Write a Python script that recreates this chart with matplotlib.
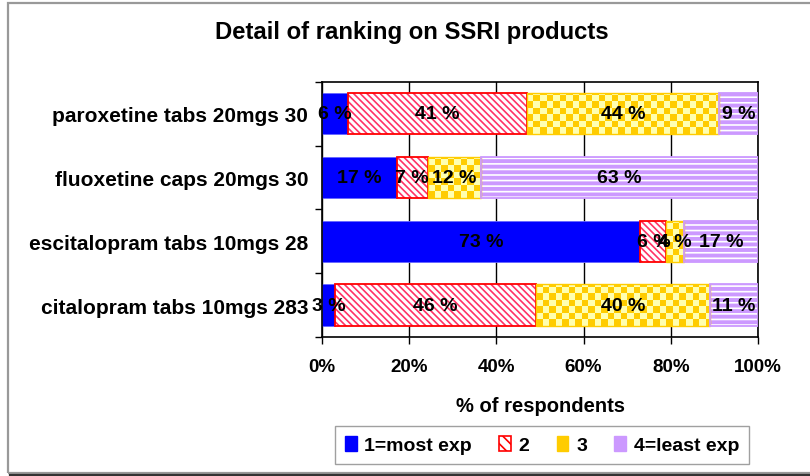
import numpy as np
import matplotlib
matplotlib.use("Agg")
import matplotlib.pyplot as plt
from matplotlib.patches import Rectangle
from matplotlib.lines import Line2D
from matplotlib.colors import ListedColormap

plt.rcParams['font.family'] = ['Liberation Sans', 'DejaVu Sans']
plt.rcParams['hatch.linewidth'] = 1.2

# ---- data -------------------------------------------------------------
products = ["paroxetine tabs 20mgs 30", "fluoxetine caps 20mgs 30",
            "escitalopram tabs 10mgs 28", "citalopram tabs 10mgs 283"]
rank_names = ["1=most exp", "2", "3", "4=least exp"]
rank1 = [6, 17, 73, 3]
rank2 = [41, 7, 6, 46]
rank3 = [44, 12, 4, 40]
rank4 = [9, 63, 17, 11]
xticks = [0, 20, 40, 60, 80, 100]
xtick_labels = ["0%", "20%", "40%", "60%", "80%", "100%"]

series = [rank1, rank2, rank3, rank4]
values = np.array(series, dtype=float)           # shape (4 ranks, 4 products)
shares = values / values.sum(axis=0) * 100        # 100% stacked

W, H = 810, 477
fig = plt.figure(figsize=(W / 100, H / 100), dpi=100)

# chart frame
fig.add_artist(Rectangle((7.5 / W, 1 - 473.5 / H), 1.2, (473.5 - 3.5) / H,
                         transform=fig.transFigure, fill=False,
                         edgecolor="#999999", lw=1.6, zorder=0))
fig.add_artist(Line2D([10 / W, 1.0], [1 - 475.5 / H] * 2, transform=fig.transFigure,
                      color="#333333", lw=1.6))

ax = fig.add_axes([322 / W, 1 - 338 / H, (758 - 322) / W, (338 - 82.7) / H])

ypos = np.arange(len(products))[::-1]  # first product on top
bar_h = 0.65

blue = "#0000FF"
red = "#FF0000"
gold = "#FFCC00"
lightyellow = "#FFFFB0"
lav = "#CC99FF"

# pixel size of one checker cell, converted to data units
px_x = 100 / (758 - 322)
px_y = 4 / (338 - 82.7)
cell = 6.5
checker_cmap = ListedColormap([gold, lightyellow])


def checker(ax, left, width, y, height):
    """Fill a rectangle with a fixed-size gold/light-yellow checkerboard."""
    x0 = left
    y0 = y - height / 2
    nx = int(np.ceil(width / (cell * px_x))) + 1
    ny = int(np.ceil(height / (cell * px_y))) + 1
    ii, jj = np.meshgrid(np.arange(nx), np.arange(ny))
    pat = ((ii + jj) % 2).astype(float)
    im = ax.imshow(pat, cmap=checker_cmap, interpolation="nearest", origin="lower",
                   extent=[x0, x0 + nx * cell * px_x, y0, y0 + ny * cell * px_y],
                   aspect="auto", zorder=2)
    clip = Rectangle((x0, y0), width, height, transform=ax.transData)
    im.set_clip_path(clip)


left = np.zeros(len(products))
for k, share in enumerate(shares):
    if k == 0:
        ax.barh(ypos, share, left=left, height=bar_h, color=blue,
                edgecolor="#6666FF", lw=0.6, zorder=2)
    elif k == 1:
        ax.barh(ypos, share, left=left, height=bar_h, facecolor="white",
                edgecolor="#FF3366", hatch="\\\\\\\\\\", lw=0, zorder=2)
        ax.barh(ypos, share, left=left, height=bar_h, fill=False,
                edgecolor=red, lw=1.3, zorder=3)
    elif k == 2:
        for yy, l, w in zip(ypos, left, share):
            checker(ax, l, w, yy, bar_h)
        ax.barh(ypos, share, left=left, height=bar_h, fill=False,
                edgecolor=gold, lw=1.0, zorder=3)
    else:
        ax.barh(ypos, share, left=left, height=bar_h, facecolor=lav,
                edgecolor="white", hatch="---", lw=0, zorder=2)
        ax.barh(ypos, share, left=left, height=bar_h, fill=False,
                edgecolor=lav, lw=1.3, zorder=3)
    # value labels
    for yy, l, w, v in zip(ypos, left, share, series[k]):
        ax.text(l + w / 2, yy, f"{v} %", ha="center", va="center",
                fontsize=14, fontweight="bold", color="black", zorder=5)
    left = left + share

ax.set_xlim(0, 100)
ax.set_ylim(-0.5, len(products) - 0.5)

ax.set_xticks(xticks)
ax.set_xticklabels(xtick_labels, fontsize=13.5, fontweight="bold")
ax.tick_params(axis="x", direction="out", length=5, width=1, pad=10)
ax.set_yticks(ypos)
ax.set_yticklabels(products, fontsize=15, fontweight="bold")
ax.tick_params(axis="y", which="major", length=0, pad=10)
ax.set_yticks(np.arange(-0.5, len(products)), minor=True)
ax.tick_params(axis="y", which="minor", direction="out", length=5, width=1)

ax.grid(axis="x", color="black", lw=1, zorder=0)
ax.set_axisbelow(True)
for s in ax.spines.values():
    s.set_linewidth(1.2)
    s.set_color("black")

ax.set_xlabel("% of respondents", fontsize=14.5, fontweight="bold", labelpad=15)
fig.text(412 / W, 1 - 33 / H, "Detail of ranking on SSRI products",
         ha="center", va="center", fontsize=17.2, fontweight="bold")

# legend
handles = [
    Rectangle((0, 0), 1, 1, facecolor=blue, edgecolor=blue),
    Rectangle((0, 0), 1, 1, facecolor="white", edgecolor=red, hatch="\\\\\\", lw=1.2),
    Rectangle((0, 0), 1, 1, facecolor=gold, edgecolor=gold),
    Rectangle((0, 0), 1, 1, facecolor=lav, edgecolor=lav),
]
leg = fig.legend(handles, rank_names, loc="center", bbox_to_anchor=(542 / W, 1 - 446 / H),
                 ncol=4, frameon=True, fancybox=False, edgecolor="#888888",
                 prop={"weight": "bold", "size": 14}, handlelength=0.6,
                 handleheight=0.8, handletextpad=0.4, columnspacing=1.4,
                 borderpad=0.5)
leg.get_frame().set_linewidth(1.0)

fig.savefig("out.png", dpi=100)
